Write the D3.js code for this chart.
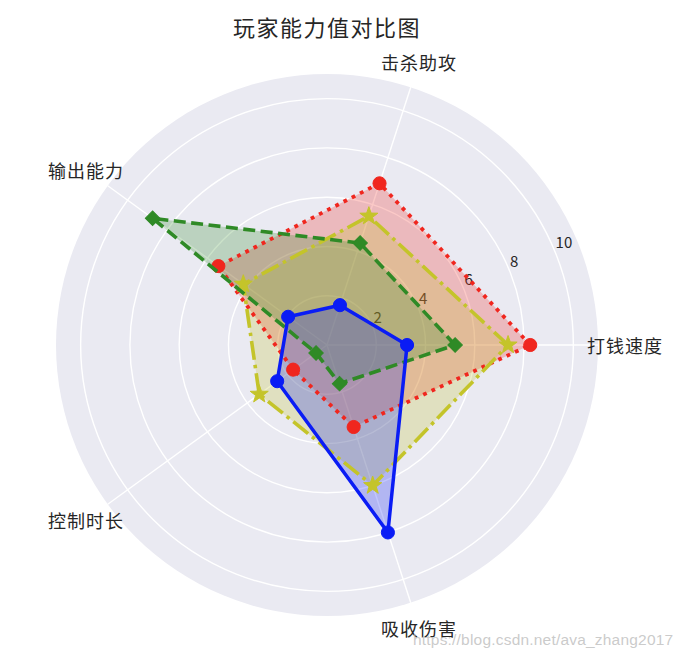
<!DOCTYPE html>
<html>
<head>
<meta charset="utf-8">
<script src="https://cdn.jsdelivr.net/npm/d3@7"></script>
<style>
  html, body { margin: 0; padding: 0; background: #ffffff; }
  svg { display: block; }
  text { font-family: "Noto Sans CJK SC", "Noto Sans", sans-serif; fill: #262626; }
</style>
</head>
<body>
<svg id="chart" width="680" height="658"></svg>
<script>
// ---------------- data ----------------
const title = "玩家能力值对比图";
const categories = ["打钱速度", "击杀助攻", "输出能力", "控制时长", "吸收伤害"];
const radialTicks = [2, 4, 6, 8, 10];
const radialMax = 11;

const redValues    = [8.25, 6.9, 5.45, 1.7, 3.5];
const yellowValues = [7.35, 5.5, 4.2, 3.4, 6.0];
const greenValues  = [5.2, 4.35, 8.75, 0.55, 1.65];
const blueValues   = [3.25, 1.7, 1.95, 2.5, 8.0];

const watermark = "https://blog.csdn.net/ava_zhang2017";

// ---------------- styles ----------------
const series = [
  { values: redValues,    color: "#f0261e", dash: "3.8 5.4",   marker: "circle",  width: 3.8 },
  { values: yellowValues, color: "#c4c42a", dash: "19 5 3.5 5", marker: "star",    width: 3.6 },
  { values: greenValues,  color: "#2f8a26", dash: "12 5.5",    marker: "diamond", width: 3.6 },
  { values: blueValues,   color: "#0a1cf5", dash: null,        marker: "circle",  width: 3.5 }
];

const cx = 327, cy = 345, R = 271;
const svg = d3.select("#chart");
const g = svg.append("g").attr("transform", `translate(${cx},${cy})`);

const r = d3.scaleLinear().domain([0, radialMax]).range([0, R]);
// math angle (counter-clockwise from east)
const theta = c => categories.indexOf(c) * 2 * Math.PI / categories.length;
const px = (c, v) => r(v) * Math.cos(theta(c));
const py = (c, v) => -r(v) * Math.sin(theta(c));

// background
g.append("circle").attr("r", R).attr("fill", "#eaeaf2");

// rings
g.selectAll(".ring").data(radialTicks).enter().append("circle")
  .attr("r", d => r(d)).attr("fill", "none").attr("stroke", "#ffffff").attr("stroke-width", 1.4);

// spokes
g.selectAll(".spoke").data(categories).enter().append("line")
  .attr("x1", 0).attr("y1", 0)
  .attr("x2", d => px(d, radialMax)).attr("y2", d => py(d, radialMax))
  .attr("stroke", "#ffffff").attr("stroke-width", 1.4);

// radial tick labels (at 22.5 deg)
const tickAng = 22.5 * Math.PI / 180;
g.selectAll(".rtick").data(radialTicks).enter().append("text")
  .attr("x", d => r(d) * Math.cos(tickAng) + 1)
  .attr("y", d => -r(d) * Math.sin(tickAng) - 9.5)
  .attr("text-anchor", "start")
  .attr("dominant-baseline", "central")
  .style("font-size", "15px")
  .text(d => d);

// category labels
const labelR = 298;
g.selectAll(".clabel").data(categories).enter().append("text")
  .attr("x", d => labelR * Math.cos(theta(d)))
  .attr("y", d => -labelR * Math.sin(theta(d)))
  .attr("text-anchor", "middle")
  .attr("dominant-baseline", "central")
  .style("font-size", "18px")
  .style("letter-spacing", "1px")
  .text(d => d);

// radial line generator
const radial = d3.lineRadial()
  .angle((d, i) => Math.PI / 2 - theta(categories[i]))
  .radius(d => r(d))
  .curve(d3.curveLinearClosed);

// fills first (patches below lines)
series.forEach(s => {
  g.append("path").attr("d", radial(s.values))
    .attr("fill", s.color).attr("fill-opacity", 0.25).attr("stroke", "none");
});

function starPath(ro, ri) {
  const pts = [];
  for (let k = 0; k < 10; k++) {
    const a = -Math.PI / 2 + k * Math.PI / 5;
    const rr = k % 2 === 0 ? ro : ri;
    pts.push([rr * Math.cos(a), rr * Math.sin(a)]);
  }
  return "M" + pts.map(p => p.join(",")).join("L") + "Z";
}

// lines and markers
series.forEach(s => {
  g.append("path").attr("d", radial(s.values))
    .attr("fill", "none").attr("stroke", s.color).attr("stroke-width", s.width)
    .attr("stroke-dasharray", s.dash).attr("stroke-linejoin", "round");
  const m = g.selectAll(null).data(s.values.map((v, i) => ({ c: categories[i], v }))).enter()
    .append("path")
    .attr("transform", d => {
      const t = `translate(${px(d.c, d.v)},${py(d.c, d.v)})`;
      return s.marker === "diamond" ? t + " rotate(45)" : t;
    })
    .attr("fill", s.color).attr("stroke", s.color).attr("stroke-width", 1);
  if (s.marker === "circle") m.attr("d", d3.symbol(d3.symbolCircle, 135)());
  else if (s.marker === "diamond") m.attr("d", d3.symbol(d3.symbolSquare, 105)());
  else m.attr("d", starPath(9.5, 3.8));
});

// title
svg.append("text").attr("x", cx).attr("y", 26)
  .attr("text-anchor", "middle").attr("dominant-baseline", "central")
  .style("font-size", "22px").style("letter-spacing", "1.5px")
  .text(title);

// watermark
svg.append("text").attr("x", 413).attr("y", 645)
  .style("font-family", "'Liberation Sans', Arial, sans-serif")
  .style("font-size", "15.5px").style("letter-spacing", "0.2px")
  .style("fill", "#bdbdbd").style("fill-opacity", 0.8)
  .text(watermark);
</script>
</body>
</html>
